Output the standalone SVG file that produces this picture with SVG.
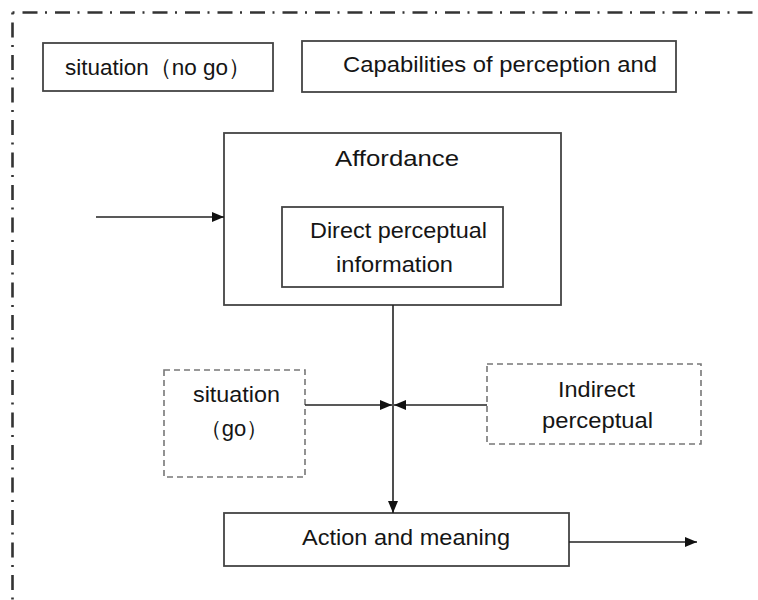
<svg xmlns="http://www.w3.org/2000/svg" width="758" height="600" viewBox="0 0 758 600">
<defs>
<style>
.box{fill:#fff;stroke:#444;stroke-width:1.8}
.dbox{fill:#fff;stroke:#777;stroke-width:1.6;stroke-dasharray:6,4}
.t{font-family:"Liberation Sans",Arial,sans-serif;font-size:22px;fill:#151515}
.ln{stroke:#222;stroke-width:1.6;fill:none}
.frame{stroke:#333;stroke-width:2.6;fill:none;stroke-dasharray:2,8,15,7.5}
</style>
<marker id="ah" viewBox="0 0 12 10" refX="12" refY="5" markerWidth="12" markerHeight="10" markerUnits="userSpaceOnUse" orient="auto">
<path d="M0,0 L12,5 L0,10 z" fill="#111"/>
</marker>
</defs>
<rect width="758" height="600" fill="#fff"/>
<path class="frame" d="M12.5,12.5 H758"/>
<path class="frame" d="M12.5,12.5 V600"/>
<g id="n-situation-nogo">
<rect class="box" x="43" y="43" width="230" height="48"/>
<text class="t" x="65" y="75" style="font-size:22.5px">situation（no go）</text>
</g>
<g id="n-capabilities">
<rect class="box" x="302" y="41" width="374" height="51"/>
<text class="t" x="343" y="72" textLength="314" lengthAdjust="spacingAndGlyphs">Capabilities of perception and</text>
</g>
<g id="n-affordance">
<rect class="box" x="224" y="133" width="337" height="172"/>
<text class="t" x="335" y="166" textLength="124" lengthAdjust="spacingAndGlyphs">Affordance</text>
</g>
<g id="n-direct">
<rect class="box" x="282" y="207" width="221" height="80"/>
<text class="t" x="310" y="238" textLength="177" lengthAdjust="spacingAndGlyphs">Direct perceptual</text>
<text class="t" x="336" y="272" textLength="117" lengthAdjust="spacingAndGlyphs">information</text>
</g>
<g id="n-situation-go">
<rect class="dbox" x="164" y="370" width="141" height="107"/>
<text class="t" x="193" y="402" textLength="87" lengthAdjust="spacingAndGlyphs">situation</text>
<text class="t" x="234" y="436" text-anchor="middle">（go）</text>
</g>
<g id="n-indirect">
<rect class="dbox" x="487" y="364" width="214" height="80"/>
<text class="t" x="558" y="397" textLength="77" lengthAdjust="spacingAndGlyphs">Indirect</text>
<text class="t" x="542" y="428" textLength="111" lengthAdjust="spacingAndGlyphs">perceptual</text>
</g>
<g id="n-action">
<rect class="box" x="224" y="513" width="345" height="53"/>
<text class="t" x="302" y="545" textLength="208" lengthAdjust="spacingAndGlyphs">Action and meaning</text>
</g>
<g id="connectors">
<line class="ln" x1="96" y1="217" x2="224" y2="217" marker-end="url(#ah)"/>
<line class="ln" x1="393" y1="305" x2="393" y2="513" marker-end="url(#ah)"/>
<line class="ln" x1="305" y1="405" x2="392" y2="405" marker-end="url(#ah)"/>
<line class="ln" x1="487" y1="405" x2="394" y2="405" marker-end="url(#ah)"/>
<line class="ln" x1="569" y1="542" x2="697" y2="542" marker-end="url(#ah)"/>
</g>
</svg>
